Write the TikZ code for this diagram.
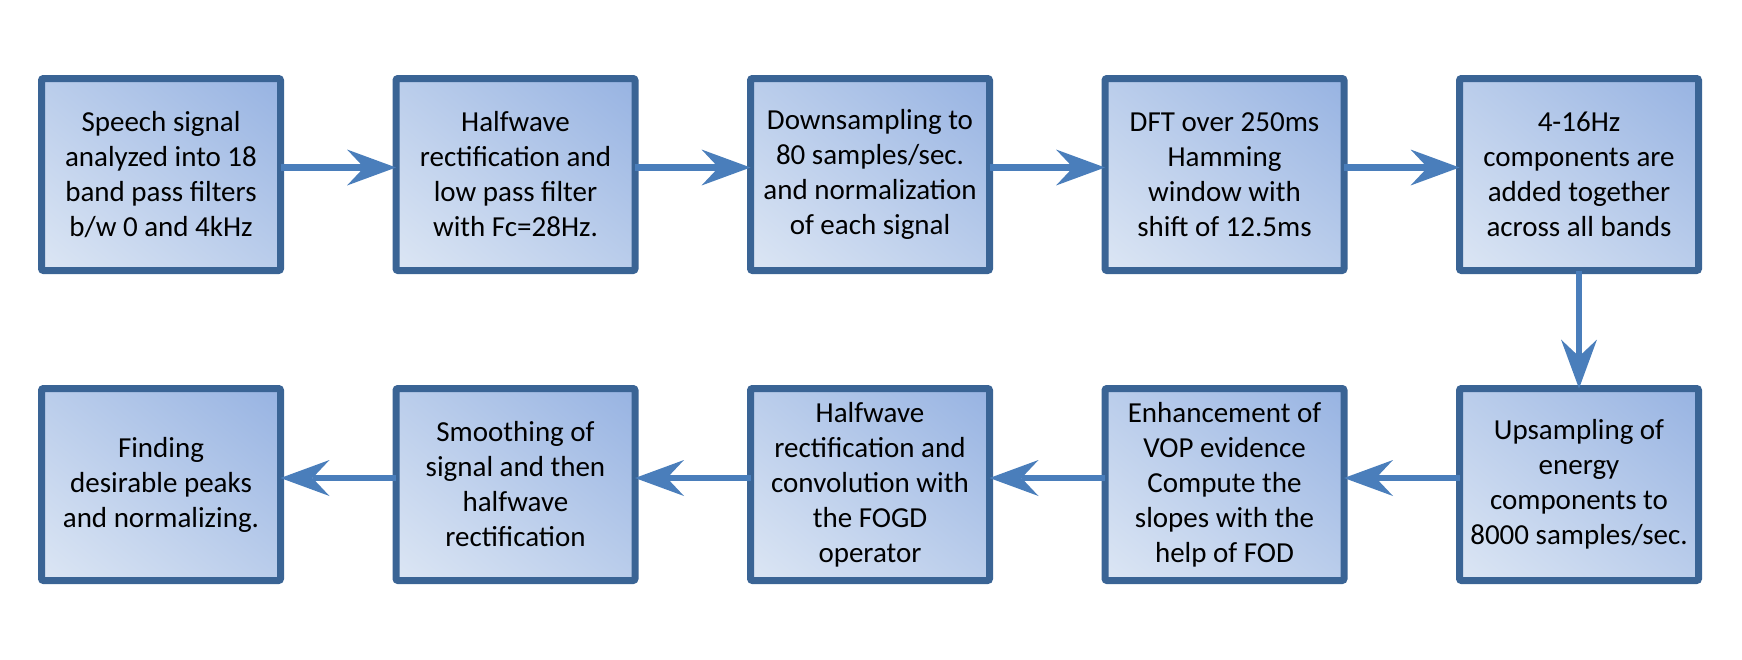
\documentclass[tikz,border=0pt]{standalone}
\usepackage{fontspec}
\setmainfont{Carlito}
\usetikzlibrary{positioning,arrows.meta,shadings}
\definecolor{boxline}{HTML}{3A6495}
\definecolor{flow}{HTML}{4A7EBB}
\definecolor{shadelow}{HTML}{DCE6F4}
\definecolor{shadehigh}{HTML}{97B3E2}
\definecolor{shademid}{HTML}{BACDEB}
\tikzstyle{stage}=[rectangle, draw=boxline, line width=7pt, rounded corners=2pt, outer sep=0pt, inner sep=0pt, minimum width=239pt, minimum height=192pt, align=center, lower left=shadelow, upper right=shadehigh, upper left=shademid, lower right=shademid, font=\fontsize{29pt}{35pt}\selectfont]
\tikzset{flowarrow/.style={draw=flow, line width=6.5pt,
      -{Stealth[length=49pt,width=36pt,inset=17pt,line width=0pt]}}}

\begin{document}
\begin{tikzpicture}[x=1pt, y=1pt]
    \useasboundingbox (0,0) rectangle (1742,-659);
    % top row
    \node[stage] (speech) at (161,-174.5) {Speech signal\\analyzed into 18\\band pass filters\\b/w 0 and 4kHz};
    \node[stage, right=115.5pt of speech] (halfwave) {Halfwave\\rectification and\\low pass filter\\with Fc=28Hz.};
    \node[stage, right=115.5pt of halfwave] (down) {Downsampling to\\80 samples/sec.\\and normalization\\of each signal};
    \node[stage, right=115.5pt of down] (dft) {DFT over 250ms\\Hamming\\window with\\shift of 12.5ms};
    \node[stage, right=115.5pt of dft] (bands) {4-16Hz\\components are\\added together\\across all bands};
    % bottom row
    \node[stage, below=118pt of bands] (up) {Upsampling of\\energy\\components to\\8000 samples/sec.};
    \node[stage, left=115.5pt of up] (enh) {Enhancement of\\VOP evidence\\Compute the\\slopes with the\\help of FOD};
    \node[stage, left=115.5pt of enh] (fogd) {Halfwave\\rectification and\\convolution with\\the FOGD\\operator};
    \node[stage, left=115.5pt of fogd] (smooth) {Smoothing of\\signal and then\\halfwave\\rectification};
    \node[stage, left=115.5pt of smooth] (peaks) {Finding\\desirable peaks\\and normalizing.};

    \draw[flowarrow] ([yshift=7pt]speech.east) -- ([yshift=7pt]halfwave.west);
    \draw[flowarrow] ([yshift=7pt]halfwave.east) -- ([yshift=7pt]down.west);
    \draw[flowarrow] ([yshift=7pt]down.east) -- ([yshift=7pt]dft.west);
    \draw[flowarrow] ([yshift=7pt]dft.east) -- ([yshift=7pt]bands.west);
    \draw[flowarrow] (bands.south) -- (up.north);
    \draw[flowarrow] ([yshift=6.5pt]up.west) -- ([yshift=6.5pt]enh.east);
    \draw[flowarrow] ([yshift=6.5pt]enh.west) -- ([yshift=6.5pt]fogd.east);
    \draw[flowarrow] ([yshift=6.5pt]fogd.west) -- ([yshift=6.5pt]smooth.east);
    \draw[flowarrow] ([yshift=6.5pt]smooth.west) -- ([yshift=6.5pt]peaks.east);
  \end{tikzpicture}
\end{document}
